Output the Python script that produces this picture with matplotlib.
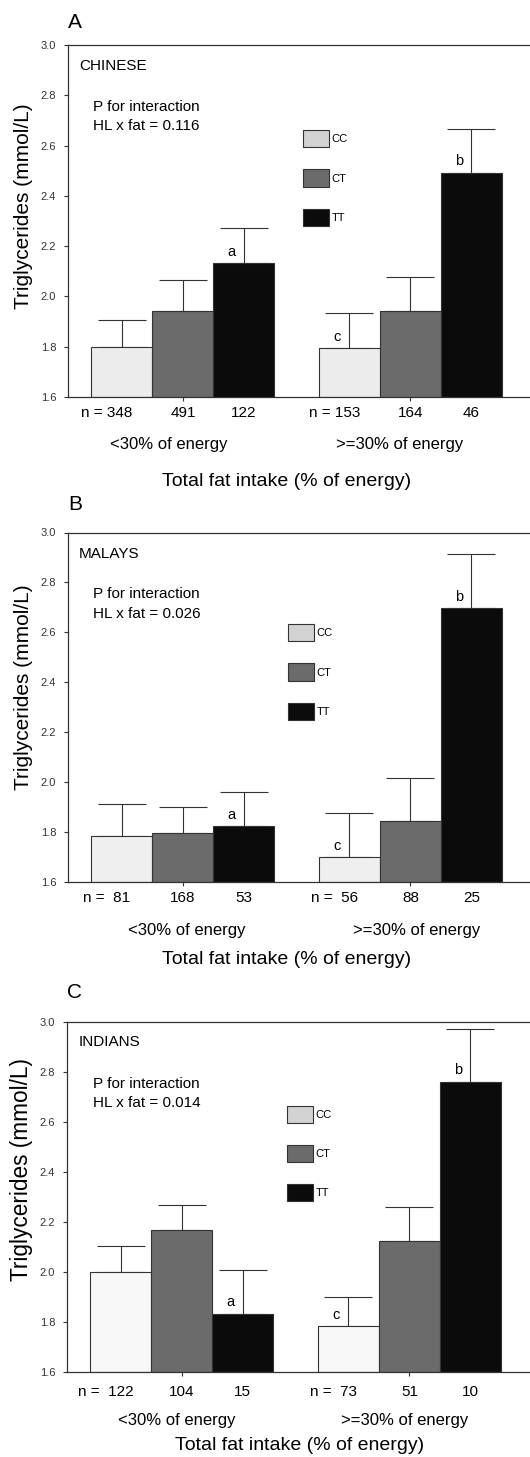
import numpy as np
import matplotlib
matplotlib.use("Agg")
from matplotlib import pyplot as plt

plt.rcParams["font.family"] = ["Liberation Sans", "DejaVu Sans"]

# 数据
genotypes = ["CC", "CT", "TT"]
fat_groups = ["<30% of energy", ">=30% of energy"]

chinese_low = [1.80, 1.942, 2.132]
chinese_low_err = [0.106, 0.123, 0.140]
chinese_high = [1.794, 1.942, 2.492]
chinese_high_err = [0.139, 0.137, 0.174]
chinese_n = [["n = 348", "491", "122"], ["n = 153", "164", "46"]]

malays_low = [1.785, 1.796, 1.823]
malays_low_err = [0.129, 0.103, 0.136]
malays_high = [1.699, 1.843, 2.697]
malays_high_err = [0.177, 0.173, 0.218]
malays_n = [["n =  81", "168", "53"], ["n =  56", "88", "25"]]

indians_low = [1.998, 2.166, 1.833]
indians_low_err = [0.106, 0.102, 0.176]
indians_high = [1.784, 2.122, 2.760]
indians_high_err = [0.114, 0.137, 0.209]
indians_n = [["n =  122", "104", "15"], ["n =  73", "51", "10"]]

W, H = 530, 1457

# 每个面板的版式（像素）：left, top, right, bottom
panels = [
    dict(letter="A", name="CHINESE", p="0.116", low=chinese_low, low_err=chinese_low_err,
         high=chinese_high, high_err=chinese_high_err, n=chinese_n, cc="#ececec",
         box=(68, 45, 531, 397), leg=(302.5, 130), letter_dy=23,
         n_dy=16, grp_dy=48, ttl_dy=85, grp_x=(169, 400), ttl_x=287,
         ylab=15, ylab_y=0.543),
    dict(letter="B", name="MALAYS", p="0.026", low=malays_low, low_err=malays_low_err,
         high=malays_high, high_err=malays_high_err, n=malays_n, cc="#efefef",
         box=(68, 532.5, 531, 882), leg=(288, 624), letter_dy=28,
         n_dy=16, grp_dy=48, ttl_dy=78, grp_x=(187, 417), ttl_x=287,
         ylab=15, ylab_y=0.557),
    dict(letter="C", name="INDIANS", p="0.014", low=indians_low, low_err=indians_low_err,
         high=indians_high, high_err=indians_high_err, n=indians_n, cc="#f8f8f8",
         box=(67, 1021.5, 531, 1372), leg=(286.5, 1105.5), letter_dy=29,
         n_dy=20, grp_dy=48, ttl_dy=73, grp_x=(177, 405), ttl_x=300,
         ylab=16.3, ylab_y=0.578),
]

ct_color = "#6b6b6b"
tt_color = "#0b0b0b"
legend_colors = ["#d2d2d2", ct_color, tt_color]
edge = "#333333"
width = 0.268
offsets = np.array([-1, 0, 1]) * width

fig = plt.figure(figsize=(W / 100, H / 100), dpi=100)

for pan in panels:
    l, t, r, b = pan["box"]
    wpx, hpx = r - l, b - t
    ax = fig.add_axes([l / W, 1 - b / H, wpx / W, hpx / H])

    def fx(xp):
        return (xp - l) / wpx

    def fy(dy):
        # dy: 像素，向上为正（相对于坐标轴底部）
        return dy / hpx

    centers = np.arange(len(fat_groups))
    vals = [pan["low"], pan["high"]]
    errs = [pan["low_err"], pan["high_err"]]
    colors = [pan["cc"], ct_color, tt_color]
    for g in range(len(fat_groups)):
        for k in range(len(genotypes)):
            x = centers[g] + offsets[k]
            ax.bar(x, vals[g][k] - 1.6, bottom=1.6, width=width, color=colors[k],
                   edgecolor=edge, linewidth=0.8, zorder=2)
            ax.errorbar(x, vals[g][k], yerr=[[0], [errs[g][k]]], fmt="none",
                        ecolor=edge, elinewidth=0.8, capsize=17, capthick=0.8, zorder=1)

    # 显著性字母
    ax.text(centers[0] + offsets[2] - 0.055, pan["low"][2] + 0.045, "a",
            ha="center", va="center", fontsize=10.5)
    ax.text(centers[1] + offsets[2] - 0.055, pan["high"][2] + 0.045, "b",
            ha="center", va="center", fontsize=10.5)
    ax.text(centers[1] + offsets[0] - 0.055, pan["high"][0] + 0.045, "c",
            ha="center", va="center", fontsize=10.5)

    ax.set_ylim(1.6, 3.0)
    ax.set_xlim(-0.505, -0.505 + wpx / 227.5)
    ticks = np.arange(1.6, 3.01, 0.2)
    ax.set_yticks(ticks)
    ax.set_yticklabels([f"{v:.1f}" for v in ticks], fontsize=8, color="#333333")
    ax.set_xticks(centers)
    ax.set_xticklabels([])
    ax.tick_params(direction="out", length=3, width=0.8, color=edge, pad=5.5)
    ax.spines["right"].set_visible(False)
    for s in ["top", "left", "bottom"]:
        ax.spines[s].set_color(edge)
        ax.spines[s].set_linewidth(0.9)
    ax.set_ylabel("Triglycerides (mmol/L)", fontsize=pan["ylab"])
    ax.yaxis.set_label_coords(fx(33), pan["ylab_y"])

    # n 标签
    for g in range(len(fat_groups)):
        for k in range(len(genotypes)):
            x = centers[g] + offsets[k]
            if k == 0:
                x -= 0.066
            ax.text(x, -fy(pan["n_dy"]), pan["n"][g][k], transform=ax.get_xaxis_transform(),
                    ha="center", va="center", fontsize=11)
        ax.text(fx(pan["grp_x"][g]), -fy(pan["grp_dy"]), fat_groups[g],
                transform=ax.transAxes, ha="center", va="center", fontsize=12)
    ax.text(fx(pan["ttl_x"]), -fy(pan["ttl_dy"]), "Total fat intake (% of energy)",
            transform=ax.transAxes, ha="center", va="center", fontsize=14)

    ax.text(0.0, 1 + fy(pan["letter_dy"]), pan["letter"], transform=ax.transAxes,
            ha="left", va="center", fontsize=15)
    ax.text(fx(79), 1 - fy(21), pan["name"], transform=ax.transAxes, ha="left",
            va="center", fontsize=11)
    ax.text(fx(93), 1 - fy(62), "P for interaction", transform=ax.transAxes,
            ha="left", va="center", fontsize=11)
    ax.text(fx(93), 1 - fy(81.5), "HL x fat = " + pan["p"], transform=ax.transAxes,
            ha="left", va="center", fontsize=11)

    handles = [plt.Rectangle((0, 0), 1, 1, facecolor=c, edgecolor=edge, linewidth=0.8)
               for c in legend_colors]
    lx, ly = pan["leg"]
    ax.legend(handles, genotypes, loc="upper left", bbox_to_anchor=(fx(lx), 1 - fy(ly - t)),
              frameon=False, fontsize=8, handlelength=2.34, handleheight=2.0,
              labelspacing=2.0, handletextpad=0.25, borderpad=0, borderaxespad=0)

fig.savefig("out.png", dpi=100)
